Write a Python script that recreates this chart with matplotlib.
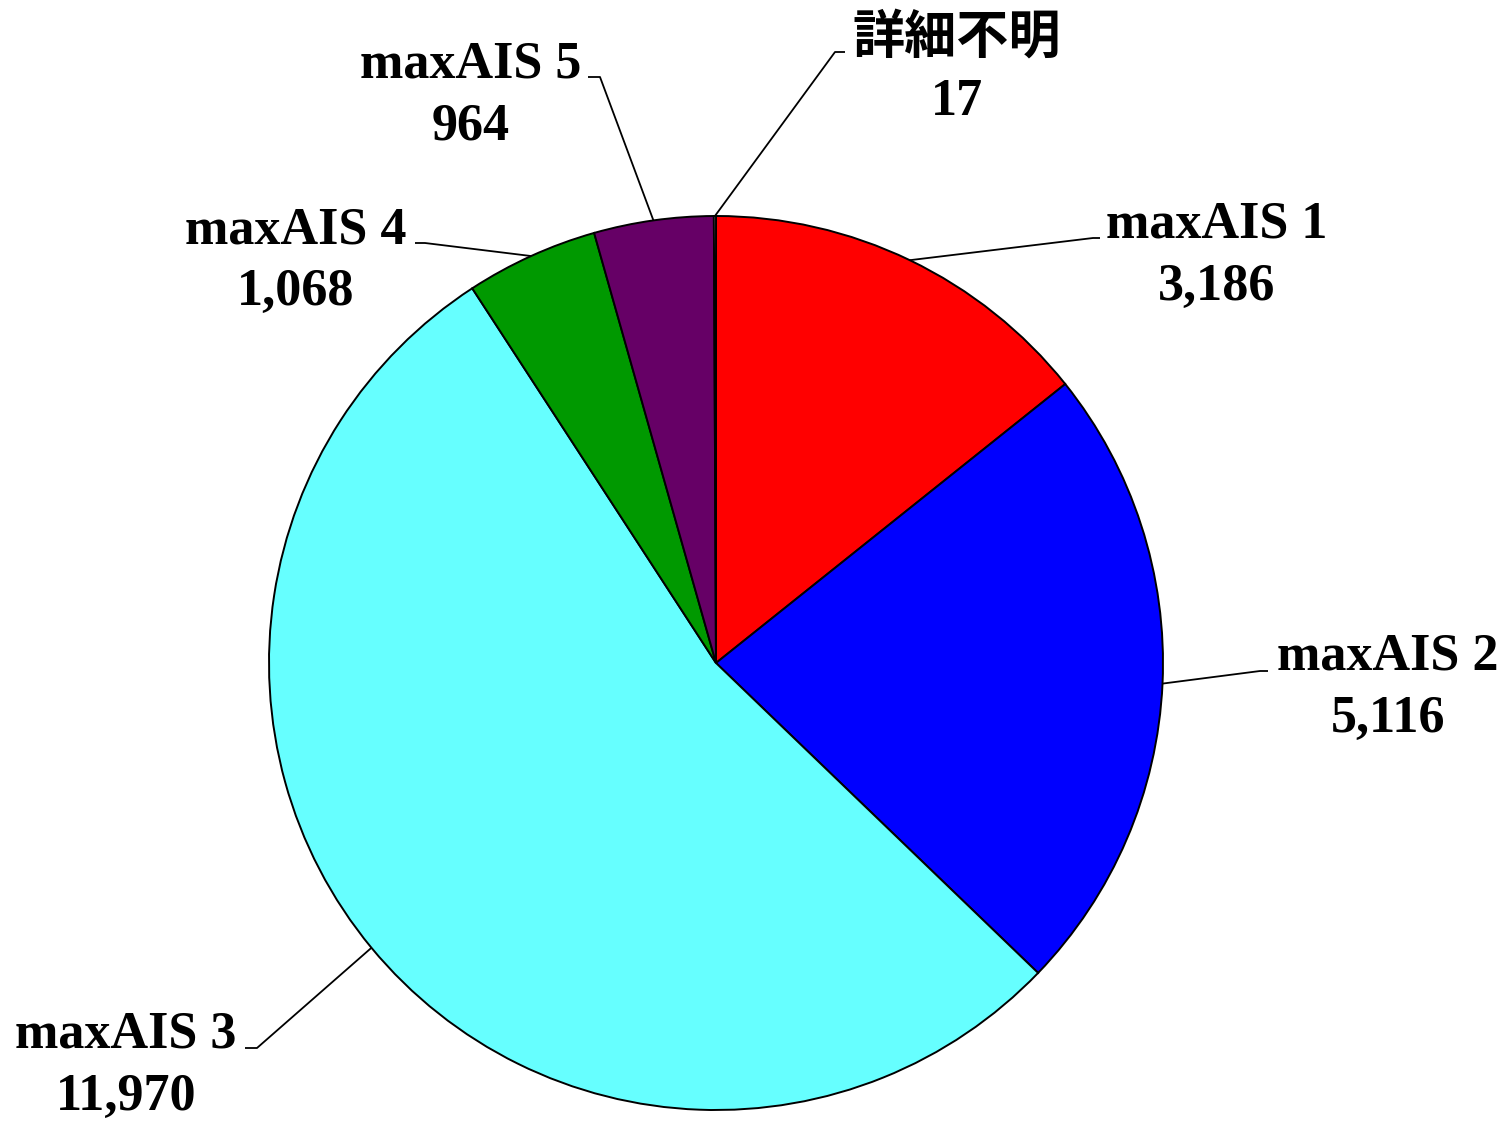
import matplotlib.pyplot as plt
import numpy as np

# data
labels = ['maxAIS 1', 'maxAIS 2', 'maxAIS 3', 'maxAIS 4', 'maxAIS 5', '詳細不明']
values = [3186, 5116, 11970, 1068, 964, 17]
colors = ['#FF0000', '#0000FF', '#66FFFF', '#009900', '#660066', '#FFFFFF']

# label placement in pixels (center x, first-line baseline y), and leader elbows
label_pos = [(1217, 238), (1388, 670), (126, 1048), (296, 243), (471, 77), (957, 53)]
elbows = [((1093, 238), (1100, 238)),
          ((1260, 671), (1268, 671)),
          ((257, 1048), (245, 1048)),
          ((425, 243), (415, 243)),
          ((600, 77), (588, 77)),
          ((835, 52), (845, 52))]

W, H = 1508, 1121
cx, cy, R = 716, 663, 447


def px(x, y):
    # pixel coords -> data coords (pie radius = 1)
    return (x - cx) / R, (cy - y) / R


fig = plt.figure(figsize=(W / 100, H / 100), dpi=100)
ax = fig.add_axes([0, 0, 1, 1])

wedges, _ = ax.pie(values, colors=colors, startangle=90, counterclock=False,
                   radius=1, center=(0, 0), frame=True,
                   wedgeprops=dict(edgecolor='black', linewidth=1.4))
ax.set_xlim(-cx / R, (W - cx) / R)
ax.set_ylim((cy - H) / R, cy / R)
ax.axis('off')

fam = ['Liberation Serif', 'Noto Sans CJK JP']
for w, lab, val, (lx, ly), (e1, e2) in zip(wedges, labels, values, label_pos, elbows):
    mid = np.deg2rad((w.theta1 + w.theta2) / 2)
    sx, sy = np.cos(mid), np.sin(mid)
    p1 = px(*e1)
    p2 = px(*e2)
    ax.plot([sx, p1[0], p2[0]], [sy, p1[1], p2[1]], color='black', lw=1.3,
            solid_capstyle='butt', zorder=3)
    tx, ty = px(lx, ly)
    ax.text(tx, ty, lab, ha='center', va='baseline', fontsize=37.5,
            fontweight='bold', family=fam)
    tx2, ty2 = px(lx, ly + 62)
    ax.text(tx2, ty2, f'{val:,}', ha='center', va='baseline', fontsize=37.5,
            fontweight='bold', family=fam)

fig.savefig('out.png', dpi=100, facecolor='white')
